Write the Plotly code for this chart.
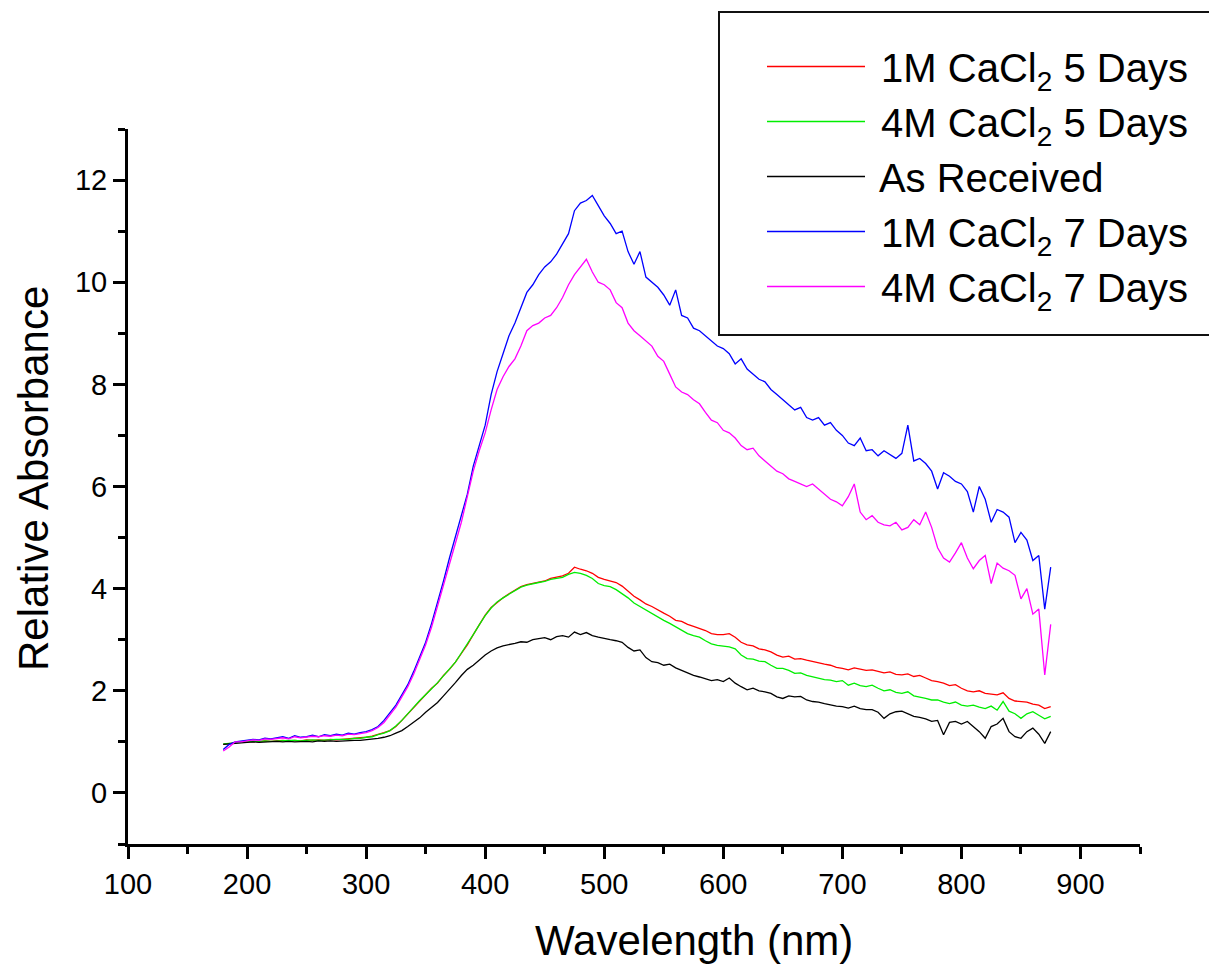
import plotly.graph_objects as go

wavelength = list(range(180, 876, 5))

red_1m_5d = [
    0.95, 0.97, 0.99, 1.00, 1.00, 1.01, 1.00, 1.02, 1.01, 1.02,
    1.03, 1.02, 1.03, 1.02, 1.04, 1.03, 1.04, 1.03, 1.05, 1.04,
    1.05, 1.06, 1.06, 1.08, 1.09, 1.11, 1.14, 1.18, 1.22, 1.30,
    1.42, 1.55, 1.68, 1.80, 1.92, 2.05, 2.15, 2.30, 2.42, 2.56,
    2.73, 2.90, 3.10, 3.28, 3.48, 3.63, 3.73, 3.82, 3.90, 3.97,
    4.04, 4.08, 4.10, 4.13, 4.15, 4.20, 4.22, 4.25, 4.30, 4.42,
    4.38, 4.35, 4.30, 4.22, 4.18, 4.15, 4.12, 4.05, 3.95, 3.85,
    3.78, 3.70, 3.65, 3.58, 3.52, 3.46, 3.38, 3.36, 3.30, 3.26,
    3.22, 3.18, 3.12, 3.10, 3.10, 3.12, 3.05, 2.95, 2.90, 2.88,
    2.82, 2.80, 2.76, 2.70, 2.66, 2.68, 2.62, 2.63, 2.60, 2.57,
    2.55, 2.52, 2.50, 2.46, 2.44, 2.41, 2.45, 2.42, 2.40, 2.41,
    2.38, 2.35, 2.37, 2.32, 2.31, 2.33, 2.28, 2.30, 2.25, 2.20,
    2.18, 2.15, 2.10, 2.12, 2.05, 2.00, 1.98, 2.00, 1.95, 1.93,
    1.92, 1.96, 1.85, 1.80, 1.79, 1.78, 1.74, 1.72, 1.65, 1.69,
]

green_4m_5d = [
    0.96, 0.97, 0.99, 1.00, 1.00, 1.01, 1.01, 1.02, 1.01, 1.02,
    1.02, 1.03, 1.03, 1.02, 1.03, 1.04, 1.03, 1.04, 1.04, 1.05,
    1.05, 1.05, 1.07, 1.07, 1.09, 1.10, 1.14, 1.17, 1.22, 1.31,
    1.42, 1.54, 1.68, 1.81, 1.92, 2.04, 2.16, 2.30, 2.43, 2.56,
    2.74, 2.91, 3.10, 3.29, 3.47, 3.62, 3.74, 3.82, 3.89, 3.97,
    4.03, 4.07, 4.10, 4.12, 4.14, 4.18, 4.20, 4.22, 4.28, 4.32,
    4.30, 4.26, 4.20, 4.10, 4.06, 4.04, 3.98, 3.90, 3.82, 3.72,
    3.65, 3.58, 3.52, 3.45, 3.38, 3.32, 3.25, 3.18, 3.12, 3.08,
    3.05, 2.98, 2.92, 2.89, 2.88, 2.86, 2.82, 2.70, 2.63, 2.62,
    2.58, 2.57, 2.50, 2.44, 2.44, 2.40, 2.34, 2.35, 2.30, 2.27,
    2.25, 2.22, 2.21, 2.18, 2.20, 2.11, 2.15, 2.10, 2.08, 2.11,
    2.05, 2.00, 2.02, 1.97, 1.95, 1.98, 1.90, 1.88, 1.85, 1.82,
    1.82, 1.78, 1.75, 1.78, 1.72, 1.70, 1.72, 1.68, 1.65, 1.70,
    1.62, 1.79, 1.60, 1.55, 1.46, 1.55, 1.59, 1.52, 1.45, 1.50,
]

black_as_received = [
    0.95, 0.96, 0.98, 0.99, 0.99, 1.00, 0.99, 1.00, 1.00, 1.01,
    1.00, 1.01, 1.00, 1.01, 1.01, 1.00, 1.02, 1.01, 1.02, 1.01,
    1.02, 1.02, 1.03, 1.03, 1.04, 1.05, 1.07, 1.09, 1.12, 1.17,
    1.22, 1.30, 1.38, 1.47, 1.58, 1.68, 1.77, 1.90, 2.02, 2.16,
    2.30, 2.42, 2.50, 2.60, 2.70, 2.78, 2.84, 2.88, 2.90, 2.93,
    2.96, 2.95, 3.00, 3.02, 3.04, 3.00, 3.06, 3.08, 3.05, 3.15,
    3.10, 3.14, 3.08, 3.05, 3.02, 3.00, 2.98, 2.95, 2.85, 2.78,
    2.80, 2.65, 2.57, 2.55, 2.50, 2.52, 2.45, 2.40, 2.36, 2.30,
    2.27, 2.24, 2.20, 2.22, 2.18, 2.25, 2.15, 2.08, 2.02, 2.05,
    2.00, 1.98, 1.95, 1.88, 1.85, 1.90, 1.88, 1.89, 1.82, 1.79,
    1.78, 1.75, 1.72, 1.70, 1.69, 1.66, 1.70, 1.65, 1.63, 1.63,
    1.58, 1.46, 1.55, 1.59, 1.60, 1.55, 1.50, 1.48, 1.45, 1.40,
    1.42, 1.14, 1.38, 1.40, 1.35, 1.40, 1.30, 1.20, 1.07, 1.30,
    1.35, 1.46, 1.20, 1.10, 1.07, 1.20, 1.27, 1.15, 0.97, 1.20,
]

blue_1m_7d = [
    0.85, 0.95, 1.00, 1.02, 1.03, 1.05, 1.04, 1.07, 1.06, 1.08,
    1.10, 1.07, 1.12, 1.09, 1.10, 1.13, 1.10, 1.14, 1.12, 1.15,
    1.13, 1.17, 1.15, 1.18, 1.20, 1.24, 1.30, 1.42, 1.58, 1.72,
    1.92, 2.12, 2.38, 2.65, 2.95, 3.32, 3.72, 4.15, 4.60, 5.00,
    5.45, 5.85, 6.40, 6.80, 7.20, 7.80, 8.25, 8.60, 8.95, 9.20,
    9.50, 9.80, 9.95, 10.15, 10.30, 10.40, 10.55, 10.75, 10.95, 11.40,
    11.55, 11.60, 11.70, 11.50, 11.30, 11.15, 10.95, 11.00, 10.60, 10.35,
    10.60, 10.10, 10.00, 9.90, 9.75, 9.55, 9.85, 9.35, 9.30, 9.10,
    9.05, 8.95, 8.85, 8.75, 8.70, 8.60, 8.40, 8.50, 8.30, 8.20,
    8.10, 8.05, 7.90, 7.80, 7.70, 7.60, 7.50, 7.55, 7.35, 7.30,
    7.35, 7.20, 7.25, 7.10, 7.00, 6.85, 6.80, 6.95, 6.70, 6.72,
    6.60, 6.70, 6.62, 6.55, 6.65, 7.20, 6.50, 6.55, 6.45, 6.30,
    5.95, 6.27, 6.20, 6.10, 6.05, 5.90, 5.50, 6.00, 5.75, 5.30,
    5.55, 5.50, 5.40, 4.90, 5.10, 4.95, 4.55, 4.65, 3.60, 4.42,
]

magenta_4m_7d = [
    0.82, 0.90, 1.00, 1.00, 1.02, 1.04, 1.03, 1.06, 1.05, 1.07,
    1.08, 1.06, 1.10, 1.08, 1.09, 1.11, 1.10, 1.12, 1.11, 1.13,
    1.12, 1.15, 1.14, 1.16, 1.18, 1.22, 1.28, 1.38, 1.52, 1.68,
    1.88, 2.08, 2.33, 2.60, 2.90, 3.25, 3.65, 4.05, 4.45, 4.90,
    5.30, 5.80, 6.30, 6.70, 7.05, 7.50, 7.90, 8.15, 8.35, 8.50,
    8.75, 9.05, 9.15, 9.20, 9.30, 9.35, 9.50, 9.70, 9.95, 10.15,
    10.30, 10.45, 10.20, 10.00, 9.95, 9.85, 9.60, 9.50, 9.20, 9.05,
    8.95, 8.85, 8.75, 8.55, 8.45, 8.20, 7.95, 7.85, 7.80, 7.70,
    7.62, 7.45, 7.30, 7.25, 7.10, 7.05, 6.95, 6.80, 6.72, 6.75,
    6.60, 6.50, 6.40, 6.30, 6.25, 6.15, 6.10, 6.05, 6.00, 6.05,
    5.95, 5.85, 5.75, 5.70, 5.62, 5.80, 6.05, 5.50, 5.35, 5.43,
    5.30, 5.25, 5.23, 5.30, 5.15, 5.20, 5.35, 5.25, 5.50, 5.20,
    4.80, 4.60, 4.52, 4.70, 4.90, 4.60, 4.39, 4.55, 4.65, 4.10,
    4.50, 4.40, 4.35, 4.26, 3.80, 4.00, 3.50, 3.60, 2.31, 3.30,
]

series_names = [
    " 1M CaCl<sub>2</sub> 5 Days",
    " 4M CaCl<sub>2</sub> 5 Days",
    " As Received",
    " 1M CaCl<sub>2</sub> 7 Days",
    " 4M CaCl<sub>2</sub> 7 Days",
]
series_values = [red_1m_5d, green_4m_5d, black_as_received, blue_1m_7d, magenta_4m_7d]
series_colors = ["#ff0000", "#00ee00", "#000000", "#0000ff", "#ff00ff"]

x_ticks = [100, 200, 300, 400, 500, 600, 700, 800, 900]
y_ticks = [0, 2, 4, 6, 8, 10, 12]

FONT = "Liberation Sans, Arial, sans-serif"

# page body has an 8px margin: figure origin sits at (8, 8) in the page
OFF = 8
PL, PR, PT, PB = 128, 1140, 129, 844   # plot-area edges in page pixels
W, H = 1217 - OFF, 967 - OFF
PW, PH = PR - PL, PB - PT

fig = go.Figure()
for name, vals, col in zip(series_names, series_values, series_colors):
    fig.add_trace(go.Scatter(
        x=wavelength, y=vals, mode="lines", name=name,
        line=dict(color=col, width=1.3),
    ))

axis_common = dict(
    showline=True, linecolor="black", linewidth=3,
    ticks="outside", ticklen=12, tickwidth=3, tickcolor="black",
    showgrid=False, zeroline=False, mirror=False,
    tickfont=dict(family=FONT, size=29, color="black"),
)

fig.update_xaxes(
    range=[100, 950], tickvals=x_ticks, ticktext=[str(v) for v in x_ticks],
    minor=dict(tickvals=[150, 250, 350, 450, 550, 650, 750, 850, 950],
               ticklen=7, tickwidth=3, tickcolor="black", ticks="outside"),
    **axis_common,
)
fig.update_yaxes(
    range=[-1, 13], tickvals=y_ticks, ticktext=[str(v) for v in y_ticks],
    minor=dict(tickvals=[-1, 1, 3, 5, 7, 9, 11, 13],
               ticklen=7, tickwidth=3, tickcolor="black", ticks="outside"),
    **axis_common,
)

fig.update_layout(
    width=W, height=H,
    margin=dict(l=PL - OFF, r=W + OFF - PR, t=PT - OFF, b=H + OFF - PB, autoexpand=False),
    paper_bgcolor="white", plot_bgcolor="white",
    font=dict(family=FONT, color="black"),
    showlegend=True,
    legend=dict(
        x=(762 - PL) / PW, y=(PB - 34) / PH, xanchor="left", yanchor="top",
        bgcolor="rgba(0,0,0,0)", borderwidth=0,
        font=dict(family=FONT, size=40, color="black"),
        itemwidth=98, tracegroupgap=0,
    ),
    shapes=[dict(
        type="rect", xref="paper", yref="paper",
        x0=(719 - PL) / PW, x1=1.10, y0=(PB - 335) / PH, y1=(PB - 12) / PH,
        line=dict(color="#111111", width=2), fillcolor="white", layer="below",
    )],
    annotations=[
        dict(text="Wavelength (nm)", xref="paper", yref="paper",
             x=(694 - PL) / PW, y=-(940 - PB) / PH, xanchor="center", yanchor="middle",
             showarrow=False, font=dict(family=FONT, size=42, color="black")),
        dict(text="Relative Absorbance", xref="paper", yref="paper",
             x=-(PL - 33) / PW, y=(PB - 479) / PH, xanchor="center", yanchor="middle",
             textangle=-90, showarrow=False,
             font=dict(family=FONT, size=42, color="black")),
    ],
)

fig.write_html("out.html")
